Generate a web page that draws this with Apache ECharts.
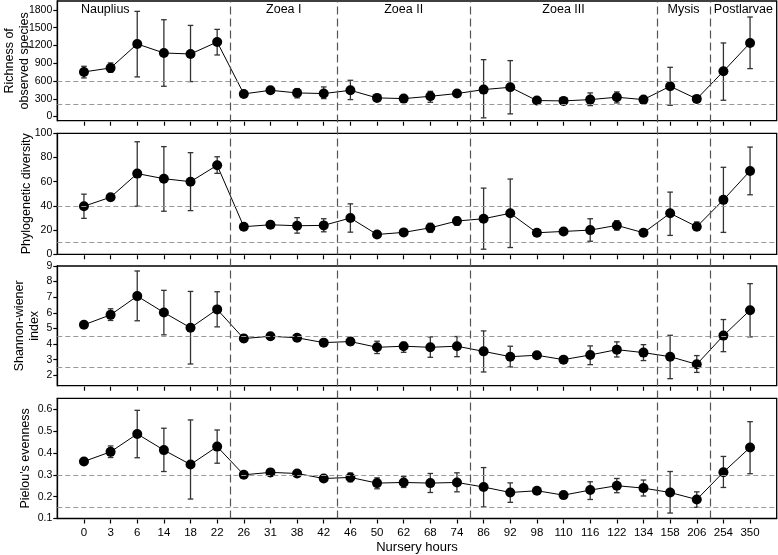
<!DOCTYPE html>
<html>
<head>
<meta charset="utf-8">
<script src="https://cdn.jsdelivr.net/npm/echarts@6/dist/echarts.min.js"></script>
<style>
  html, body { margin: 0; padding: 0; background: #fff; }
  #chart { width: 778px; height: 555px; }
</style>
</head>
<body>
<div id="chart"></div>
<script>
// nursery hours (x categories)
const hours = ['0', '3', '6', '14', '18', '22', '26', '31', '38', '42', '46', '50', '62', '68', '74',
  '86', '92', '98', '110', '116', '122', '134', '158', '206', '254', '350'];

// larval stages and where they split (in category index units)
const stages = ['Nauplius', 'Zoea I', 'Zoea II', 'Zoea III', 'Mysis', 'Postlarvae'];
const stageLabelX = [0.8, 7.5, 12, 18, 22.5, 24.75];
const stageBounds = [5.5, 9.5, 14.5, 21.5, 23.5];

// richness of observed species
const richMean = [753, 820, 1225, 1073, 1056, 1258, 382, 443, 399, 388, 443, 315, 303, 342, 388, 455, 494, 270, 264, 286, 326, 286, 511, 298, 763, 1242];
const richLo = [652, 746, 669, 511, 590, 1039, 350, 415, 315, 303, 286, 290, 285, 241, 360, -22, 45, 255, 250, 185, 230, 265, 190, 255, 275, 809];
const richHi = [848, 905, 1775, 1634, 1538, 1471, 415, 470, 472, 500, 612, 340, 320, 426, 415, 960, 944, 285, 280, 399, 416, 305, 831, 340, 1242, 1680];
const richRef = [600, 200];

// phylogenetic diversity
const pdMean = [39.7, 47.2, 66.7, 62.5, 60, 73.6, 22.8, 24.4, 23.6, 23.9, 30, 16.4, 18.1, 21.9, 27.5, 29.4, 33.9, 17.8, 18.9, 20, 23.9, 17.8, 33.9, 22.8, 45, 68.9];
const pdLo = [29.7, 45.5, 39.7, 35.6, 36.1, 66.9, 20.5, 22.2, 17.5, 18.6, 18.3, 15, 16.5, 18.1, 23.9, 4.2, 5.6, 16.5, 17.5, 10.8, 20, 16.5, 15.6, 20, 18.1, 49.2];
const pdHi = [49.7, 49, 93, 89, 84, 80.6, 25, 26.5, 30.3, 29.4, 41.7, 18, 19.8, 25.6, 30.6, 54.7, 62.2, 19, 20.3, 29.4, 27.8, 19, 51.4, 26.7, 71.9, 88.6];
const pdRef = [40, 10];

// shannon-wiener index
const shMean = [5.23, 5.87, 7.07, 6.02, 5.04, 6.22, 4.35, 4.5, 4.4, 4.09, 4.16, 3.79, 3.86, 3.79, 3.86, 3.53, 3.19, 3.28, 3.0, 3.3, 3.64, 3.45, 3.19, 2.7, 4.54, 6.17];
const shLo = [5.04, 5.51, 5.49, 4.59, 2.72, 5.1, 4.14, 4.4, 4.2, 4.0, 3.92, 3.39, 3.47, 3.15, 3.19, 2.21, 2.53, 3.2, 2.9, 2.68, 3.17, 2.94, 1.78, 2.18, 3.51, 4.46];
const shHi = [5.38, 6.26, 8.68, 7.44, 7.37, 7.35, 4.59, 4.6, 4.6, 4.18, 4.4, 4.18, 4.11, 4.46, 4.48, 4.84, 3.86, 3.36, 3.1, 3.88, 4.14, 3.96, 4.56, 3.26, 5.57, 7.87];
const shRef = [4.5, 2.5];

// pielou's evenness
const pjMean = [0.361, 0.405, 0.487, 0.413, 0.347, 0.429, 0.300, 0.311, 0.306, 0.283, 0.288, 0.262, 0.265, 0.262, 0.265, 0.244, 0.219, 0.227, 0.207, 0.230, 0.250, 0.239, 0.219, 0.187, 0.312, 0.425];
const pjLo = [0.35, 0.379, 0.378, 0.315, 0.189, 0.353, 0.288, 0.302, 0.295, 0.275, 0.268, 0.236, 0.242, 0.219, 0.222, 0.153, 0.174, 0.219, 0.198, 0.187, 0.218, 0.203, 0.125, 0.151, 0.242, 0.305];
const pjHi = [0.372, 0.432, 0.595, 0.513, 0.551, 0.505, 0.312, 0.32, 0.317, 0.291, 0.308, 0.286, 0.292, 0.306, 0.309, 0.333, 0.263, 0.235, 0.216, 0.268, 0.283, 0.276, 0.315, 0.222, 0.384, 0.543];
const pjRef = [0.3, 0.15];

// y tick labels
const richTicks = [0, 300, 600, 900, 1200, 1500, 1800];
const pdTicks = [0, 20, 40, 60, 80, 100];
const shTicks = [2, 3, 4, 5, 6, 7, 8, 9];
const pjTicks = [0.1, 0.2, 0.3, 0.4, 0.5, 0.6];

const FONT = '"Liberation Sans", Arial, Helvetica, sans-serif';
const LEFT = 57.3;
const RIGHT = 1.3;

const panels = [
  { name: 'Richness of\nobserved species', mean: richMean, lo: richLo, hi: richHi, ref: richRef, ticks: richTicks,
    min: -70, max: 1950, top: 1, height: 119.7, nameGap: 25 },
  { name: 'Phylogenetic diversity', mean: pdMean, lo: pdLo, hi: pdHi, ref: pdRef, ticks: pdTicks,
    min: 0, max: 100, top: 133.3, height: 121, nameGap: 23 },
  { name: 'Shannon-wiener\nindex', mean: shMean, lo: shLo, hi: shHi, ref: shRef, ticks: shTicks,
    min: 1.33, max: 9, top: 266, height: 119.7, nameGap: 15 },
  { name: "Pielou's evenness", mean: pjMean, lo: pjLo, hi: pjHi, ref: pjRef, ticks: pjTicks,
    min: 0.1, max: 0.65, top: 398.3, height: 120.2, nameGap: 24 }
];

const idx = hours.map((h, i) => i);

function renderErrorBar(params, api) {
  const x = api.value(0);
  const lo = api.coord([x, api.value(1)]);
  const hi = api.coord([x, api.value(2)]);
  const w = 2.8;
  const style = { stroke: '#333', lineWidth: 1.3, fill: null };
  return {
    type: 'group',
    children: [
      { type: 'line', shape: { x1: lo[0], y1: lo[1], x2: hi[0], y2: hi[1] }, style },
      { type: 'line', shape: { x1: lo[0] - w, y1: lo[1], x2: lo[0] + w, y2: lo[1] }, style },
      { type: 'line', shape: { x1: hi[0] - w, y1: hi[1], x2: hi[0] + w, y2: hi[1] }, style }
    ]
  };
}

const grid = [];
const xAxis = [];
const yAxis = [];
const series = [];

panels.forEach((p, g) => {
  const last = g === panels.length - 1;
  grid.push({
    left: LEFT, right: RIGHT, top: p.top, height: p.height, outerBoundsMode: 'none', containLabel: false,
    show: true, borderColor: '#000', borderWidth: 1.3, backgroundColor: 'transparent'
  });
  xAxis.push({
    gridIndex: g, type: 'value', min: -1, max: 26, interval: 1, offset: 1, position: 'bottom',
    axisLine: { show: false, onZero: false },
    axisTick: { show: true, length: 4, customValues: idx, lineStyle: { color: '#000', width: 1.2 } },
    axisLabel: {
      show: last, customValues: idx, margin: 7, color: '#000', fontSize: 11.5, fontFamily: FONT,
      formatter: (v) => hours[v] || ''
    },
    splitLine: { show: false },
    name: last ? 'Nursery hours' : '',
    nameLocation: 'middle', nameGap: 21, nameMoveOverlap: false,
    nameTextStyle: { color: '#000', fontSize: 13, fontFamily: FONT }
  });
  yAxis.push({
    gridIndex: g, type: 'value', min: p.min, max: p.max, position: 'left',
    axisLine: { show: true, onZero: false, lineStyle: { color: '#000', width: 1.3 } },
    axisTick: { show: true, length: 4, customValues: p.ticks, lineStyle: { color: '#000', width: 1.2 } },
    axisLabel: {
      customValues: p.ticks, margin: 5, color: '#000', fontSize: 10.5, fontFamily: FONT,
      formatter: (v) => String(v)
    },
    splitLine: { show: false },
    name: p.name, nameLocation: 'middle', nameGap: p.nameGap, nameRotate: 90, nameMoveOverlap: false,
    nameTextStyle: { color: '#000', fontSize: 12.5, lineHeight: 15, fontFamily: FONT }
  });
  series.push({
    type: 'custom', xAxisIndex: g, yAxisIndex: g, silent: true, z: 2,
    renderItem: renderErrorBar,
    encode: { x: 0, y: [1, 2] },
    data: idx.map((i) => [i, p.lo[i], p.hi[i]])
  });
  series.push({
    type: 'line', xAxisIndex: g, yAxisIndex: g, silent: true, z: 3,
    symbol: 'circle', symbolSize: 10,
    itemStyle: { color: '#000' },
    lineStyle: { color: '#000', width: 1 },
    data: idx.map((i) => [i, p.mean[i]]),
    markLine: {
      silent: true, symbol: 'none', label: { show: false },
      lineStyle: { color: '#9a9a9a', width: 1, type: [5, 3] },
      data: p.ref.map((v) => ({ yAxis: v }))
    }
  });
});

// stage names across the top panel
series.push({
  type: 'custom', xAxisIndex: 0, yAxisIndex: 0, silent: true, z: 4,
  renderItem: (params, api) => {
    const pt = api.coord([api.value(0), api.value(1)]);
    return {
      type: 'text', x: pt[0], y: pt[1],
      style: {
        text: stages[params.dataIndex], fill: '#000',
        font: '12.5px ' + FONT, align: 'center', verticalAlign: 'middle'
      }
    };
  },
  data: stageLabelX.map((x) => [x, 1800])
});

// overlay grid for the stage boundaries that run through every panel
grid.push({ left: LEFT, right: RIGHT, top: 1, bottom: 36.5, show: false, outerBoundsMode: 'none' });
xAxis.push({ gridIndex: 4, type: 'value', min: -1, max: 26, show: false });
yAxis.push({ gridIndex: 4, type: 'value', min: 0, max: 1, show: false });
series.push({
  type: 'line', xAxisIndex: 4, yAxisIndex: 4, silent: true, data: [],
  markLine: {
    silent: true, symbol: 'none', label: { show: false },
    lineStyle: { color: '#555', width: 1.2, type: [8, 4] },
    data: stageBounds.map((v) => ({ xAxis: v }))
  }
});

const chart = echarts.init(document.getElementById('chart'), null, { renderer: 'canvas' });
chart.setOption({
  animation: false,
  backgroundColor: '#fff',
  textStyle: { fontFamily: FONT },
  grid, xAxis, yAxis, series
});
</script>
</body>
</html>
